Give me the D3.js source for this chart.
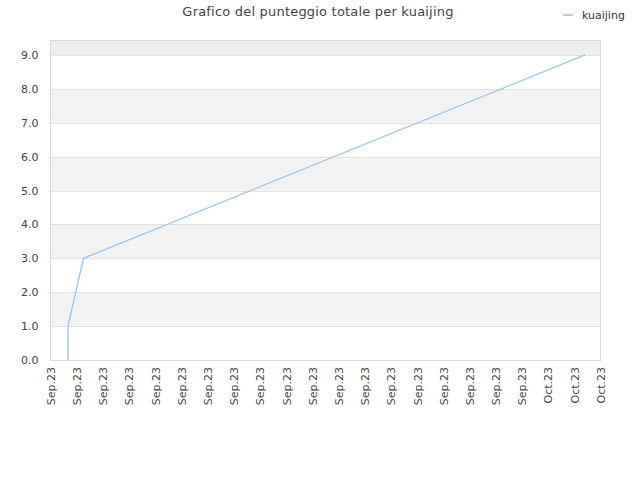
<!DOCTYPE html>
<html>
<head>
<meta charset="utf-8">
<script src="https://cdn.jsdelivr.net/npm/d3@7"></script>
<style>
  body { margin: 0; background: #fff; }
  text { font-family: "DejaVu Sans", sans-serif; }
</style>
</head>
<body>
<svg id="chart" width="640" height="480"></svg>
<script>
// data
const playerName = "kuaijing";
const pointTimes = ["2023-09-12T16:00", "2023-09-12T16:00", "2023-09-13T06:15", "2023-10-02T09:50"];
const pointScores = [0, 1, 3, 9];
const yTicks = [0, 1, 2, 3, 4, 5, 6, 7, 8, 9];

const parse = d3.timeParse("%Y-%m-%dT%H:%M");
const points = pointTimes.map((t, i) => ({ date: parse(t), score: pointScores[i] }));

const svg = d3.select("#chart");
const margin = { left: 50.5, right: 39.5, top: 40, bottom: 120 };
const width = 640, height = 480;

const x = d3.scaleTime()
    .domain([new Date(2023, 8, 12), new Date(2023, 9, 3)])
    .range([margin.left, width - margin.right]);
const y = d3.scaleLinear()
    .domain([0, 9.44])
    .range([height - margin.bottom, margin.top]);

// alternating bands
const bands = [[1, 2], [3, 4], [5, 6], [7, 8], [9, 9.44]];
svg.append("g").selectAll("rect").data(bands).enter().append("rect")
    .attr("x", margin.left)
    .attr("width", x.range()[1] - margin.left)
    .attr("y", d => y(d[1]))
    .attr("height", d => y(d[0]) - y(d[1]))
    .attr("fill", d => d[0] === 9 ? "#efefef" : "#f3f3f3");

// grid lines
svg.append("g").selectAll("line").data(yTicks.slice(1)).enter().append("line")
    .attr("x1", margin.left).attr("x2", x.range()[1])
    .attr("y1", d => Math.round(y(d)) + 0.5).attr("y2", d => Math.round(y(d)) + 0.5)
    .attr("stroke", "#e2e2e2");

// frame
svg.append("rect")
    .attr("x", margin.left).attr("y", margin.top + 0.5)
    .attr("width", x.range()[1] - margin.left)
    .attr("height", y(0) - margin.top)
    .attr("fill", "none").attr("stroke", "#d9d9d9");

// y axis
const yAxis = svg.append("g")
    .attr("transform", `translate(${margin.left},0)`)
    .call(d3.axisLeft(y).tickValues(yTicks).tickFormat(d3.format(".1f")).tickSize(0).tickPadding(12));
yAxis.select(".domain").remove();
yAxis.selectAll("text").attr("fill", "#444").style("font-size", "11px");

// x axis
const xAxis = svg.append("g")
    .attr("transform", `translate(0,${y(0)})`)
    .call(d3.axisBottom(x).ticks(d3.timeDay.every(1)).tickFormat(d3.timeFormat("%b.%y")).tickSize(0));
xAxis.select(".domain").remove();
xAxis.selectAll("text")
    .attr("fill", "#444").style("font-size", "11px")
    .attr("text-anchor", "end")
    .attr("transform", "rotate(-90)")
    .attr("x", -7).attr("y", 0).attr("dy", "0.35em");

// line
const line = d3.line().x(d => x(d.date)).y(d => y(d.score));
svg.append("path").datum(points)
    .attr("d", line)
    .attr("fill", "none")
    .attr("stroke", "#95c5f3")
    .attr("stroke-width", 1.3);

// title
svg.append("text")
    .attr("x", 318).attr("y", 16)
    .attr("text-anchor", "middle")
    .attr("fill", "#444")
    .style("font-size", "13px")
    .style("letter-spacing", "0.2px")
    .text("Grafico del punteggio totale per " + playerName);

// legend
svg.append("line")
    .attr("x1", 563).attr("x2", 573).attr("y1", 15).attr("y2", 15)
    .attr("stroke", "#95c5f3").attr("stroke-width", 1.5);
svg.append("text")
    .attr("x", 582).attr("y", 15).attr("dy", "0.35em")
    .attr("fill", "#333").style("font-size", "11px")
    .text(playerName);
</script>
</body>
</html>
